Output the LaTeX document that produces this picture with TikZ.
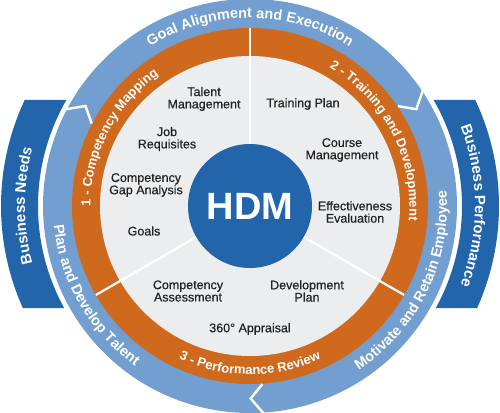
\documentclass[tikz,border=0pt]{standalone}
\usepackage{fontspec}
\setmainfont{Liberation Sans}
\newfontfamily\medfont[FakeBold=0.5]{Liberation Sans}
\usetikzlibrary{decorations.text}
\definecolor{ringblue}{HTML}{729FCF}
\definecolor{darkblue}{HTML}{2365AA}
\definecolor{ringorange}{HTML}{CF691E}
\definecolor{disk}{HTML}{ECEDEE}
\definecolor{labeltext}{HTML}{222222}
\begin{document}
\begin{tikzpicture}[x=1pt,y=1pt,
  lbl/.style={text=labeltext, font=\medfont\fontsize{12.5}{12.3}\selectfont, align=center, inner sep=0pt},
  sep/.style={white, line width=2.2pt},
  notch/.style={white, line width=2.4pt, line join=miter}
]
\useasboundingbox (-250,-206) rectangle (250,206);
% side tabs
\fill[darkblue] (154.8:249) arc[start angle=154.8, end angle=204.2, radius=249] -- (208.8:212) arc[start angle=208.8, end angle=150, radius=212] -- cycle;
\fill[darkblue] (25.2:249) arc[start angle=25.2, end angle=-24.2, radius=249] -- (-28.8:212) arc[start angle=-28.8, end angle=30, radius=212] -- cycle;
% rings
\fill[ringblue] (0,0) circle[radius=207];
\fill[ringorange] (0,0) circle[radius=178];
\fill[disk] (0,0) circle[radius=150];
% notches between outer arcs
\foreach \a in {152.5,34,-86}{
  \draw[notch] (\a:209) -- (\a-3.8:192.5) -- (\a:178.5);
}
% centre
\node[circle, fill=darkblue, minimum size=124pt, inner sep=0pt, text=white, font=\bfseries\fontsize{38}{38}\selectfont] (hdm) at (0,0) {HDM};
\coordinate (s1) at (90:178);
\coordinate (s2) at (210:178);
\coordinate (s3) at (330:178);
\draw[sep] (hdm.90) -- (s1);
\draw[sep] (hdm.210) -- (s2);
\draw[sep] (hdm.330) -- (s3);
% outer ring texts
\path[decorate, decoration={text along path, text align=center, text={|\color{white}\bfseries\fontsize{14.5}{16}\selectfont|Goal Alignment and Execution}}]
  (150:188) arc[start angle=150, end angle=30, radius=188];
\path[decorate, decoration={text along path, text align=center, text={|\color{white}\bfseries\fontsize{14.5}{16}\selectfont|Motivate and Retain Employee}}]
  (-86:197) arc[start angle=-86, end angle=34, radius=197];
\path[decorate, decoration={text along path, text align=center, text={|\color{white}\bfseries\fontsize{14.5}{16}\selectfont|Plan and Develop Talent}}]
  (150:197) arc[start angle=150, end angle=270, radius=197];
% orange ring texts
\path[decorate, decoration={text along path, text align=center, text={|\color{white}\bfseries\fontsize{13}{14}\selectfont|1 - Competency Mapping}}]
  (210:159.5) arc[start angle=210, end angle=95, radius=159.5];
\path[decorate, decoration={text along path, text align=center, text={|\color{white}\bfseries\fontsize{13}{14}\selectfont|2 - Training and Development}}]
  (85:159.5) arc[start angle=85, end angle=-30, radius=159.5];
\path[decorate, decoration={text along path, text align=center, text={|\color{white}\bfseries\fontsize{13}{14}\selectfont|3 - Performance Review}}]
  (215:168.5) arc[start angle=215, end angle=325, radius=168.5];
% tab texts
\path[decorate, decoration={text along path, text align=center, text={|\color{white}\bfseries\fontsize{15}{16}\selectfont|Business Needs}}]
  (215:225) arc[start angle=215, end angle=145, radius=225];
\path[decorate, decoration={text along path, text align=center, text={|\color{white}\bfseries\fontsize{15}{16}\selectfont|Business Performance}}]
  (35:225) arc[start angle=35, end angle=-35, radius=225];
% inner labels
\node[lbl] (talent) at (-46,107) {Talent\\Management};
\node[lbl] (job) at (-83,67) {Job\\Requisites};
\node[lbl] (gap) at (-104,21) {Competency\\Gap Analysis};
\node[lbl] (goals) at (-106,-25) {Goals};
\node[lbl] (assess) at (-62,-85) {Competency\\Assessment};
\node[lbl] (appraisal) at (0,-123) {360° Appraisal};
\node[lbl] (devplan) at (57,-85) {Development\\Plan};
\node[lbl] (effect) at (105,-6) {Effectiveness\\Evaluation};
\node[lbl] (course) at (92,56) {Course\\Management};
\node[lbl] (training) at (53,102) {Training Plan};
\end{tikzpicture}
\end{document}
